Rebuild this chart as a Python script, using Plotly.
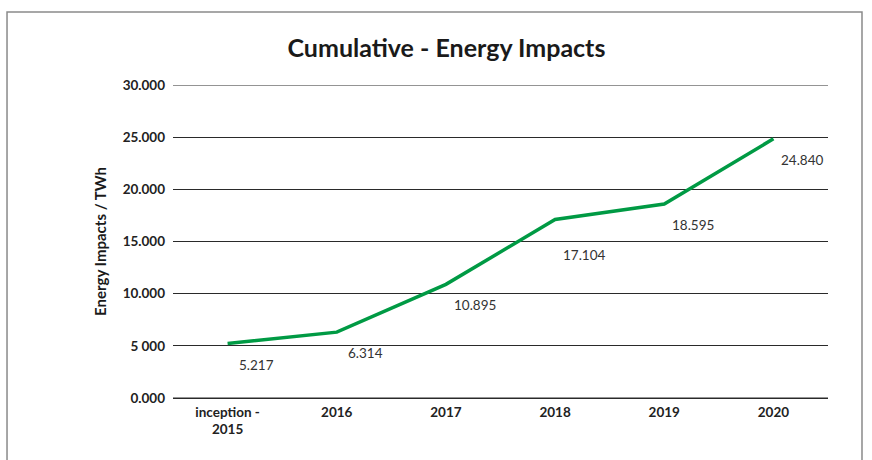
import plotly.graph_objects as go

categories = ["inception -<br>2015", "2016", "2017", "2018", "2019", "2020"]
values = [5.217, 6.314, 10.895, 17.104, 18.595, 24.840]
value_labels = ["5.217", "6.314", "10.895", "17.104", "18.595", "24.840"]
y_tickvals = [0, 5, 10, 15, 20, 25, 30]
y_ticktext = ["0.000", "5 000", "10.000", "15.000", "20.000", "25.000", "30.000"]

FONT = "Lato, 'Open Sans', sans-serif"
GRID = "#2a2a2a"

fig = go.Figure()
fig.add_trace(go.Scatter(
    x=list(range(len(categories))), y=values, mode="lines",
    line=dict(color="#009a44", width=3.5),
    hoverinfo="skip", showlegend=False,
))

label_yshift = {3: -35}
for i, (v, t) in enumerate(zip(values, value_labels)):
    fig.add_annotation(
        x=i, y=v, text=t, showarrow=False,
        xshift=29, yshift=label_yshift.get(i, -21),
        font=dict(family=FONT, size=13.5, color="#333333"),
    )

fig.update_layout(
    width=872, height=460,
    margin=dict(l=173, r=44, t=85, b=62),
    paper_bgcolor="white", plot_bgcolor="white",
    title=dict(text="<b>Cumulative - Energy Impacts</b>", x=0.512, xanchor="center",
               y=0.895, yanchor="middle",
               font=dict(family=FONT, size=25, color="#1a1a1a")),
    xaxis=dict(
        tickmode="array", tickvals=list(range(len(categories))), ticktext=categories,
        showgrid=False, zeroline=False, showline=False,
        ticks="", ticklabelstandoff=4,
        tickfont=dict(family=FONT, size=13.5, color="#222222", weight="bold"),
        range=[-0.5, 5.5],
    ),
    yaxis=dict(
        range=[0, 30], tickvals=y_tickvals, ticktext=y_ticktext,
        showgrid=True, gridcolor=GRID, gridwidth=1,
        zeroline=True, zerolinecolor=GRID, zerolinewidth=1,
        showline=False, ticks="",
        ticklabelstandoff=7,
        tickfont=dict(family=FONT, size=13.5, color="#222222", weight="bold"),
        title=dict(text="<b>Energy Impacts / TWh</b>", standoff=12,
                   font=dict(family=FONT, size=15, color="#1a1a1a")),
    ),
    shapes=[
        dict(type="rect", xref="paper", yref="paper",
             x0=-0.2534, x1=1.0519, y0=-0.25, y1=1.2332,
             line=dict(color="#8a8a8a", width=1.5), layer="below"),
        dict(type="line", xref="paper", yref="y", x0=0, x1=1,
             y0=y_tickvals[-1], y1=y_tickvals[-1],
             line=dict(color=GRID, width=1), layer="below"),
        dict(type="line", xref="paper", yref="y", x0=0, x1=1,
             y0=y_tickvals[0], y1=y_tickvals[0],
             line=dict(color=GRID, width=1), layer="below"),
    ],
)

fig.write_html("out.html", config={"displayModeBar": False})
with open("out.html", "r", encoding="utf-8") as f:
    html = f.read()
html = html.replace("<head>", "<head><style>html,body{margin:0;padding:0;overflow:hidden;}</style>", 1)
with open("out.html", "w", encoding="utf-8") as f:
    f.write(html)
